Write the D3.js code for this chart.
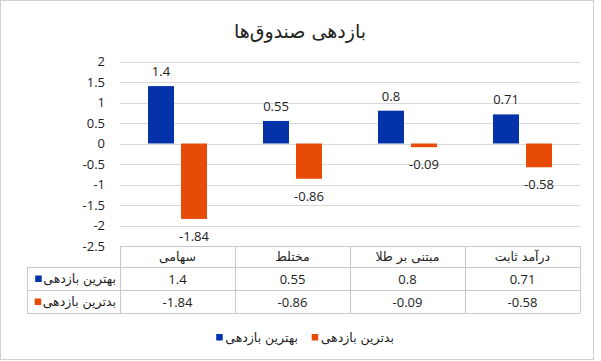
<!DOCTYPE html>
<html><head><meta charset="utf-8">
<script src="https://cdn.jsdelivr.net/npm/d3@7/dist/d3.min.js"></script>
<style>
html,body{margin:0;padding:0;background:#fff;}
svg{display:block;}
.fa{font-family:"DejaVu Sans",sans-serif;}
.num{font-family:"Open Sans","Liberation Sans",sans-serif;}
</style></head>
<body>
<svg id="chart" width="601" height="361"></svg>
<script>
const title = "بازدهی صندوق‌ها";
const categories = ["سهامی", "مختلط", "مبتنی بر طلا", "درآمد ثابت"];
const seriesNames = ["بهترین بازدهی", "بدترین بازدهی"];
const bestValues = [1.4, 0.55, 0.8, 0.71];
const worstValues = [-1.84, -0.86, -0.09, -0.58];
const yTicks = [2, 1.5, 1, 0.5, 0, -0.5, -1, -1.5, -2, -2.5];
const colors = ["#0433a9", "#e84a07"];

const seriesValues = [bestValues, worstValues];
const svg = d3.select("#chart");

// outer border
svg.append("rect").attr("x",0.5).attr("y",0.5).attr("width",593).attr("height",359)
  .attr("fill","#fff").attr("stroke","#d0d0d0");

svg.append("text").attr("class","fa").attr("x",300).attr("y",38)
  .attr("text-anchor","middle").attr("font-size",19).attr("fill","#222").text(title);

const x = d3.scaleBand().domain(categories).range([120,580]).padding(0);
const x1 = d3.scaleBand().domain(seriesNames).range([28,87]).paddingInner(7/33).paddingOuter(0);
const y = d3.scaleLinear().domain([-2.5,2]).range([246,61.5]);

// gridlines
svg.append("g").selectAll("line").data(yTicks).join("line")
  .attr("x1",120).attr("x2",580)
  .attr("y1",d=>Math.round(y(d))+0.5).attr("y2",d=>Math.round(y(d))+0.5)
  .attr("stroke","#d9d9d9");

// y axis labels
const yAxis = d3.axisLeft(y).tickValues(yTicks).tickFormat(d=>String(d)).tickSize(0).tickPadding(15);
const yg = svg.append("g").attr("transform","translate(120,0)").call(yAxis);
yg.select(".domain").remove();
yg.selectAll("text").attr("class","num").attr("font-size",13).attr("fill","#222")
  .attr("font-family","'Open Sans','Liberation Sans',sans-serif");

// bars
const groups = svg.append("g").selectAll("g").data(seriesNames).join("g")
  .attr("fill",(d,i)=>colors[i]);
groups.selectAll("rect").data((s,si)=>categories.map((c,ci)=>({s,c,v:seriesValues[si][ci]}))).join("rect")
  .attr("x",d=>x(d.c)+x1(d.s))
  .attr("width",x1.bandwidth())
  .attr("y",d=>y(Math.max(0,d.v)))
  .attr("height",d=>Math.abs(y(d.v)-y(0)));

// data labels
groups.selectAll("text").data((s,si)=>categories.map((c,ci)=>({s,c,v:seriesValues[si][ci]}))).join("text")
  .attr("class","num").attr("font-size",13).attr("fill","#222").attr("text-anchor","middle")
  .attr("x",d=>x(d.c)+x1(d.s)+x1.bandwidth()/2)
  .attr("y",d=>d.v>=0 ? y(d.v)-10 : y(d.v)+22)
  .text(d=>String(d.v));

// data table
const rowTop = [246, 267, 290, 313];
const lineC = "#c8c8c8";
const tg = svg.append("g");
tg.append("line").attr("x1",120).attr("x2",580).attr("y1",246.5).attr("y2",246.5).attr("stroke",lineC);
[267,290,313].forEach(yy=>{
  tg.append("line").attr("x1",27).attr("x2",580).attr("y1",yy+0.5).attr("y2",yy+0.5).attr("stroke",lineC);
});
tg.append("line").attr("x1",27.5).attr("x2",27.5).attr("y1",267).attr("y2",313.5).attr("stroke",lineC);
categories.forEach(c=>{
  tg.append("line").attr("x1",Math.round(x(c))+0.5).attr("x2",Math.round(x(c))+0.5).attr("y1",246).attr("y2",313.5).attr("stroke",lineC);
});
tg.append("line").attr("x1",580.5).attr("x2",580.5).attr("y1",246).attr("y2",313.5).attr("stroke",lineC);

// header
tg.selectAll("text.h").data(categories).join("text").attr("class","fa h")
  .attr("x",d=>x(d)+x.bandwidth()/2).attr("y",261).attr("text-anchor","middle")
  .attr("font-size",12.5).attr("fill","#222").text(d=>d);
// rows
seriesNames.forEach((s,si)=>{
  const cy = (rowTop[si+1]+rowTop[si+2])/2;
  const t = tg.append("text").attr("class","fa").attr("x",116).attr("y",cy+4).attr("text-anchor","end")
    .attr("font-size",12.5).attr("fill","#222").text(s);
  const bb = t.node().getBBox();
  tg.append("rect").attr("x",Math.min(36, bb.x-8)).attr("y",cy-3).attr("width",6.5).attr("height",6.5).attr("fill",colors[si]);
  tg.selectAll("text.v"+si).data(categories).join("text").attr("class","num v"+si)
    .attr("x",d=>x(d)+x.bandwidth()/2).attr("y",cy+5).attr("text-anchor","middle")
    .attr("font-size",13).attr("fill","#222").text((d,ci)=>String(seriesValues[si][ci]));
});

// legend
const legendRight = [298, 394];
seriesNames.forEach((s,si)=>{
  const t = svg.append("text").attr("class","fa").attr("x",legendRight[si]).attr("y",341.5).attr("text-anchor","end")
    .attr("font-size",12.5).attr("fill","#222").text(s);
  const bb = t.node().getBBox();
  svg.append("rect").attr("x",bb.x-9).attr("y",334).attr("width",6.5).attr("height",6.5).attr("fill",colors[si]);
});
</script>
</body></html>
